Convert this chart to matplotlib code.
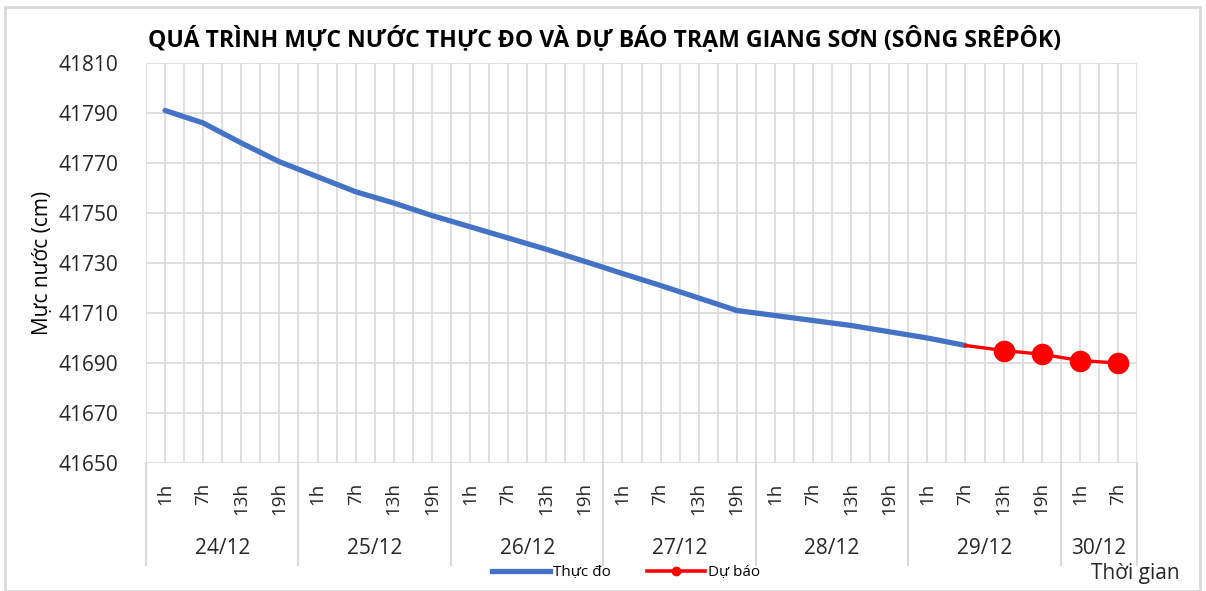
import matplotlib.pyplot as plt
from matplotlib.lines import Line2D
from matplotlib.patches import Rectangle
from matplotlib.transforms import blended_transform_factory

plt.rcParams['font.family'] = ['Open Sans', 'DejaVu Sans']

dates = ['24/12', '25/12', '26/12', '27/12', '28/12', '29/12', '30/12']
hours = ['1h', '7h', '13h', '19h']
n_hours = [4, 4, 4, 4, 4, 4, 2]

thuc_do = [41791, 41786, 41778, 41770.5, 41764.5, 41758.5, 41754, 41749,
           41744.5, 41740, 41735.5, 41730.7, 41725.8, 41721, 41716, 41711,
           41709, 41707, 41705, 41702.5, 41700, 41697]
du_bao = [41697, 41695, 41693.5, 41691, 41690]

tick_labels = []
for n in n_hours:
    tick_labels += hours[:n]
n_cat = len(tick_labels)
x_obs = [i + 0.5 for i in range(len(thuc_do))]
x_fc = [len(thuc_do) - 1 + i + 0.5 for i in range(len(du_bao))]

fig = plt.figure(figsize=(12.06, 5.91), dpi=100)
ax = fig.add_axes([146/1206, 1 - 463/591, (1137-146)/1206, 400/591])

grid_c = '#d9d9d9'
ax.set_xlim(0, n_cat)
ax.set_ylim(41650, 41810)
ax.set_yticks(range(41650, 41811, 20))
for v in range(41650, 41811, 20):
    ax.axhline(v, color=grid_c, lw=1.2, zorder=0)
for k in range(0, 2 * n_cat + 1):
    ax.axvline(k / 2, color=grid_c, lw=1.2, zorder=0)

ax.plot(x_obs, thuc_do, color='#4472C4', lw=3.8, solid_capstyle='round', zorder=3)
ax.plot(x_fc, du_bao, color='#FF0000', lw=2.4, zorder=4)
ax.plot(x_fc[1:], du_bao[1:], 'o', color='#FF0000', ms=14.5, zorder=5)

for s in ax.spines.values():
    s.set_visible(False)
ax.tick_params(axis='y', length=0, labelsize=15, pad=20, colors='#262626')
ax.set_xticks([i + 0.5 for i in range(n_cat)])
ax.set_xticklabels(tick_labels, rotation=90, fontsize=13.5)
ax.tick_params(axis='x', length=0, pad=14, colors='#262626')
for lab in ax.get_xticklabels():
    lab.set_verticalalignment('top')

trans = blended_transform_factory(ax.transData, ax.transAxes)
bounds = [0]
for n in n_hours:
    bounds.append(bounds[-1] + n)
for b in bounds:
    ax.plot([b, b], [0, -0.255], color=grid_c, lw=1.5, transform=trans, clip_on=False)
for d, a, b in zip(dates, bounds[:-1], bounds[1:]):
    ax.text((a + b) / 2, -0.213, d, transform=trans, ha='center', va='center',
            fontsize=15, color='#262626')

ax.set_ylabel('Mực nước (cm)', fontsize=15, labelpad=4, color='black')
fig.text(605/1206, 1 - 40/591, 'QUÁ TRÌNH MỰC NƯỚC THỰC ĐO VÀ DỰ BÁO TRẠM GIANG SƠN (SÔNG SRÊPÔK)',
         ha='center', va='center', fontsize=16.6, fontweight='bold')
fig.text(1135/1206, 1 - 574/591, 'Thời gian', ha='center', va='center', fontsize=15, color='#262626')

handles = [Line2D([], [], color='#4472C4', lw=3.8),
           Line2D([], [], color='#FF0000', lw=2.6, marker='o', ms=6)]
fig.legend(handles, ['Thực đo', 'Dự báo'], loc='center', bbox_to_anchor=(626/1206, 1 - 573/591),
           ncol=2, frameon=False, fontsize=11, handlelength=3.8, handletextpad=0.15,
           columnspacing=2.4, borderpad=0)

fig.patches.append(Rectangle((5/1206, 0), 1195/1206, 1 - 7/591, transform=fig.transFigure,
                             fill=False, edgecolor=grid_c, lw=2))

fig.savefig('out.png', dpi=100)
